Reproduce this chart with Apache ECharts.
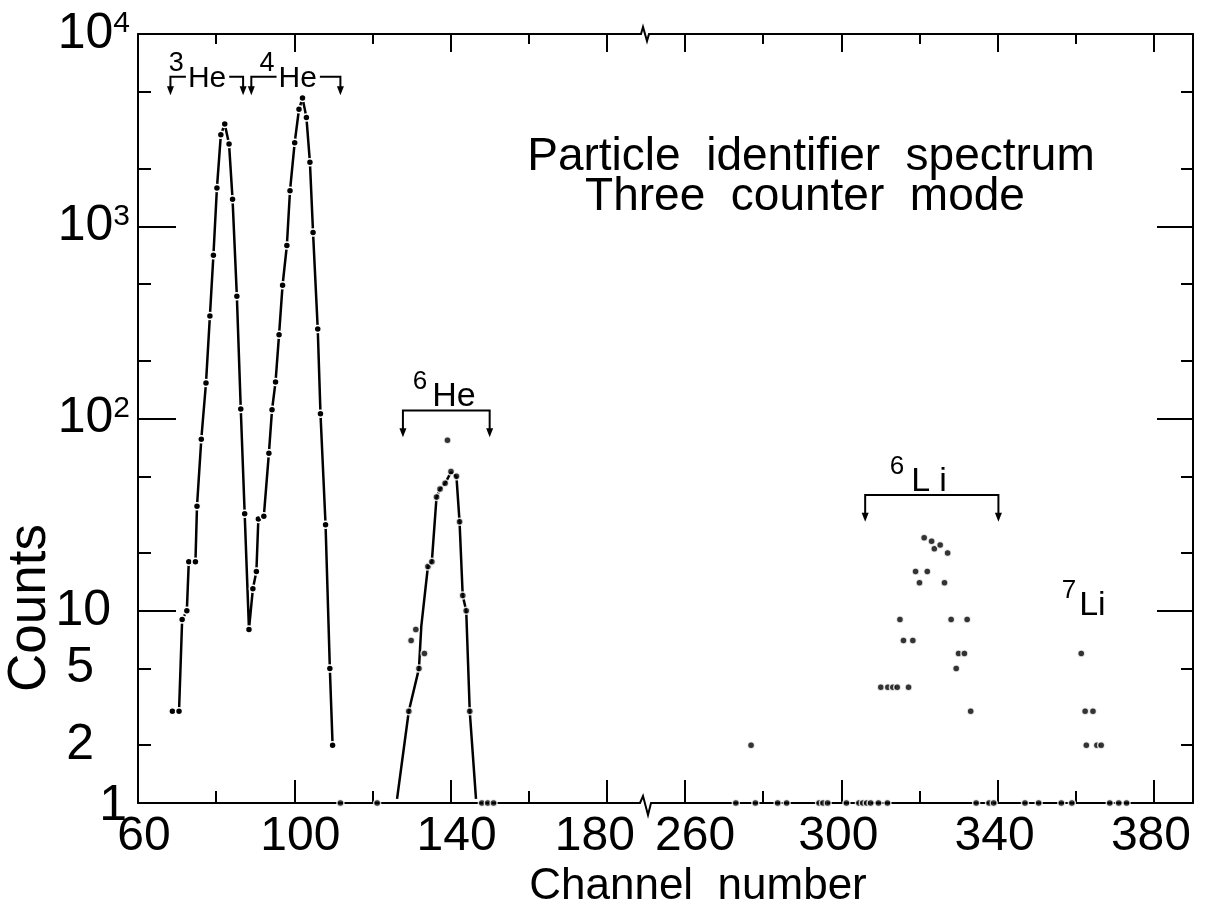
<!DOCTYPE html>
<html><head><meta charset="utf-8">
<script src="https://cdn.jsdelivr.net/npm/echarts@6/dist/echarts.min.js"></script>
<style>html,body{margin:0;padding:0;background:#fff}#c{width:1208px;height:913px}</style>
</head><body><div id="c"></div>
<script>
// ---------- axis definitions ----------
const xMajorTicks = [60, 100, 140, 180, 260, 300, 340, 380];
const xMinorTicks = [80, 120, 160, 280, 320, 360];
const yLabelValues = [1, 2, 5, 10, 100, 1000, 10000];
const yMajorTicks = [1, 10, 100, 1000, 10000];
const yMinorTicks = [2, 5, 20, 50, 200, 500, 2000, 5000];

// ---------- data ----------
const heChannel = [68.8, 70.5, 71.3, 72.5, 73.0, 74.7, 75.1, 76.2, 77.4, 78.4, 79.3, 80.2, 81.2, 82.2, 83.3, 84.2, 85.3, 86.3, 87.3, 88.4, 89.4, 90.3, 90.8, 92.2, 93.5, 94.3, 95.2, 96.1, 97.0, 98.1, 98.9, 100.1, 101.2, 102.1, 103.1, 104.0, 104.8, 106.0, 106.7, 108.0, 109.1, 109.8];
const heCounts  = [3, 3, 9, 10, 18, 18, 35, 78, 153, 341, 707, 1580, 2990, 3400, 2680, 1380, 433, 112, 32, 8, 13, 16, 30, 31, 66, 111, 155, 273, 494, 794, 1530, 2720, 4060, 4640, 3680, 2150, 927, 292, 106, 28, 5, 2];

const he6Channel = [129.3, 129.9, 131.1, 131.9, 133.3, 134.2, 135.2, 136.4, 137.3, 138.6, 139.2, 140.1, 141.5, 142.3, 143.1, 144.0, 144.9];
const he6Counts  = [3, 7, 8, 5, 6, 17, 18, 39, 43, 46, 77, 53, 50, 29, 12, 10, 3];
const he6CurveChannel = [126.3, 129.3, 131.9, 132.5, 134.2, 135.2, 136.4, 137.3, 138.6, 140.1, 141.5, 142.3, 143.1, 144.0, 144.9, 146.5];
const he6CurveCounts  = [1.05, 3, 5, 8.3, 17, 18, 39, 43, 46, 52.6, 49.8, 28.8, 12, 10, 3, 1.05];

const li6Channel = [310.1, 311.9, 313.2, 314.3, 317.2, 315.0, 315.9, 318.3, 319.0, 320.0, 321.2, 322.0, 323.1, 323.8, 325.3, 326.4, 327.2, 328.1, 329.4, 330.0, 331.5, 332.2, 333.1];
const li6Counts  = [4, 4, 4, 4, 4, 9, 7, 7, 16, 14, 24, 16, 23, 21, 22, 14, 20, 9, 5, 6, 6, 9, 3];
const li7Channel = [361.4, 362.4, 364.4, 362.7, 365.4, 366.5];
const li7Counts  = [6, 3, 3, 2, 2, 2];
const loneChannel = [276.9];
const loneCounts  = [2];
const onesChannel = [111.8, 121.2, 148, 149.5, 151, 273, 278, 283.7, 286, 294.3, 295.3, 296.5, 301.3, 304.5, 305.5, 306.5, 307.5, 309.5, 311.8, 334.5, 337.8, 339, 347, 350.5, 356.3, 359, 368.7, 371, 373];

// ---------- annotations (channel / counts units) ----------
const bracketFrom  = [68.3, 89.0, 127.8, 306.1];
const bracketTo    = [86.9, 111.8, 150.0, 340.2];
const bracketLevel = [6000, 6000, 110, 40];
const bracketTip   = [4800, 4800, 80, 29];
const labelSup     = ['3', '4', '6', '6', '7'];
const labelName    = ['He', 'He', 'He', 'Li', 'Li'];
const labelChannel = [67.9, 91.1, 130.3, 312.4, 356.4];
const labelCounts  = [6350, 6350, 139, 50, 11.3];
const axisBreakChannel = 189.5; // drawn position of the broken-axis mark (mapped units)

// ---------- helpers ----------
const SHIFT = 60; // channels >= 260 are drawn shifted left by 60
const mapCh = c => (c >= 200 ? c - SHIFT : c);
const unmapCh = v => (v >= 190 ? v + SHIFT : v);
const lg = v => Math.log10(v);
const pts = (chs, cnts) => chs.map((c, i) => [mapCh(c), lg(cnts[i])]);
const FONT = '"Liberation Sans", Arial, sans-serif';

const black = '#000';
const dotStyle = { color: black, borderColor: '#fff', borderWidth: 1.5 };

const xCommon = { type: 'value', min: 60, max: 330, splitLine: { show: false } };
const yCommon = { type: 'value', min: 0, max: 4, splitLine: { show: false } };
const axLine = { show: true, onZero: false, lineStyle: { color: black, width: 2 } };
const noLine = { show: false, onZero: false };
const tk = (len, vals) => ({ show: true, inside: true, length: len, lineStyle: { color: black, width: 2 }, customValues: vals });

const xLab = { fontSize: 48, fontFamily: FONT, color: black };
const yLab = { fontSize: 50, fontFamily: FONT, color: black };

const chart = echarts.init(document.getElementById('c'), null, { renderer: 'canvas' });
chart.setOption({
  animation: false,
  backgroundColor: '#fff',
  grid: { left: 138, right: 15, top: 34, bottom: 110, containLabel: false },
  xAxis: [
    Object.assign({}, xCommon, {
      position: 'bottom', axisLine: axLine, axisTick: tk(23, xMajorTicks.map(mapCh)),
      axisLabel: {
        show: true, margin: 10, color: black, fontSize: 48, fontFamily: FONT,
        customValues: xMajorTicks.map(mapCh),
        formatter: v => {
          const o = Math.round(unmapCh(v));
          if (o === 180) return '{l|180}';
          if (o === 260) return '{r|260}';
          if (o < 180) return '{c|' + o + '}';
          return '{n|' + o + '}';
        },
        rich: {
          c: Object.assign({ padding: [0, 0, 0, 12] }, xLab),
          l: Object.assign({ padding: [0, 24, 0, 0] }, xLab),
          r: Object.assign({ padding: [0, 0, 0, 20] }, xLab),
          n: Object.assign({ padding: [0, 6, 0, 0] }, xLab)
        }
      }
    }),
    Object.assign({}, xCommon, { position: 'bottom', axisLine: noLine, axisTick: tk(12, xMinorTicks.map(mapCh)), axisLabel: { show: false } }),
    Object.assign({}, xCommon, { position: 'top', axisLine: axLine, axisTick: tk(18, xMajorTicks.map(mapCh)), axisLabel: { show: false } }),
    Object.assign({}, xCommon, { position: 'top', axisLine: noLine, axisTick: tk(10, xMinorTicks.map(mapCh)), axisLabel: { show: false } })
  ],
  yAxis: [
    Object.assign({}, yCommon, {
      position: 'left', axisLine: axLine, axisTick: tk(38, yMajorTicks.map(lg)),
      axisLabel: {
        show: true, margin: 8, color: black, fontFamily: FONT,
        customValues: yLabelValues.map(lg),
        formatter: v => {
          const n = Math.round(Math.pow(10, v));
          if (n >= 100) return '{b|10}{s|' + Math.round(v) + '}';
          if (n === 10) return '{t|10}';
          if (n === 1) return '{o|1}';
          return '{f|' + n + '}';
        },
        rich: {
          b: Object.assign({ verticalAlign: 'bottom' }, yLab),
          s: { fontSize: 30, fontFamily: FONT, color: black, verticalAlign: 'bottom', padding: [0, 0, 20, 0] },
          t: Object.assign({ padding: [0, 19, 0, 0] }, yLab),
          f: Object.assign({ padding: [0, 36, 0, 0] }, yLab),
          o: Object.assign({ padding: [6, 3, 0, 0] }, yLab)
        }
      }
    }),
    Object.assign({}, yCommon, { position: 'left', axisLine: noLine, axisTick: tk(13, yMinorTicks.map(lg)), axisLabel: { show: false } }),
    Object.assign({}, yCommon, { position: 'right', axisLine: axLine, axisTick: tk(36, yMajorTicks.map(lg)), axisLabel: { show: false } }),
    Object.assign({}, yCommon, { position: 'right', axisLine: noLine, axisTick: tk(12, yMinorTicks.map(lg)), axisLabel: { show: false } })
  ],
  graphic: [
    { type: 'text', x: 811, y: 157, style: { text: 'Particle  identifier  spectrum', font: '46px ' + FONT, fill: black, align: 'center', verticalAlign: 'middle', textAlign: 'center', textVerticalAlign: 'middle' } },
    { type: 'text', x: 805, y: 197, style: { text: 'Three  counter  mode', font: '46px ' + FONT, fill: black, align: 'center', verticalAlign: 'middle', textAlign: 'center', textVerticalAlign: 'middle' } },
    { type: 'text', x: 698, y: 887, style: { text: 'Channel  number', font: '44px ' + FONT, fill: black, align: 'center', verticalAlign: 'middle', textAlign: 'center', textVerticalAlign: 'middle' } },
    { type: 'text', x: 30, y: 608, rotation: Math.PI / 2, style: { text: 'Counts', font: '53px ' + FONT, fill: black, align: 'center', verticalAlign: 'middle', textAlign: 'center', textVerticalAlign: 'middle' } }
  ],
  series: [
    {
      name: 'He', type: 'line', data: pts(heChannel, heCounts), clip: false,
      symbol: 'circle', symbolSize: 7, showSymbol: true,
      lineStyle: { color: black, width: 2.5 }, itemStyle: dotStyle, z: 3
    },
    {
      name: 'He6 curve', type: 'line', data: pts(he6CurveChannel, he6CurveCounts), clip: false,
      showSymbol: false, symbol: 'none', lineStyle: { color: black, width: 2.5 }, z: 2
    },
    {
      name: 'points', type: 'scatter', clip: false, symbol: 'circle', symbolSize: 7, itemStyle: dotStyle, z: 4,
      data: [].concat(pts(he6Channel, he6Counts), pts(li6Channel, li6Counts), pts(li7Channel, li7Counts),
                      pts(loneChannel, loneCounts), pts(onesChannel, onesChannel.map(() => 1)))
    },
    {
      name: 'brackets', type: 'custom', coordinateSystem: 'cartesian2d', clip: false, z: 5,
      data: bracketFrom.map((f, i) => [mapCh(f), lg(bracketLevel[i]), mapCh(bracketTo[i]), lg(bracketTip[i])]),
      renderItem: (params, api) => {
        const a = api.coord([api.value(0), api.value(1)]);
        const b = api.coord([api.value(2), api.value(1)]);
        const ta = api.coord([api.value(0), api.value(3)]);
        const tb = api.coord([api.value(2), api.value(3)]);
        const arrow = (x, y) => ({ type: 'polygon', shape: { points: [[x - 3.5, y - 9], [x + 3.5, y - 9], [x, y]] }, style: { fill: black } });
        return {
          type: 'group', children: [
            { type: 'polyline', shape: { points: [[ta[0], ta[1] - 4], a, b, [tb[0], tb[1] - 4]] }, style: { stroke: black, lineWidth: 2, fill: null } },
            arrow(ta[0], ta[1]), arrow(tb[0], tb[1])
          ]
        };
      }
    },
    {
      name: 'labels', type: 'custom', coordinateSystem: 'cartesian2d', clip: false, z: 6,
      data: labelChannel.map((c, i) => [mapCh(c), lg(labelCounts[i]), i]),
      renderItem: (params, api) => {
        const i = api.value(2);
        const p = api.coord([api.value(0), api.value(1)]);
        const inline = i < 2;
        const wide = i === 3;
        const name = labelName[i];
        const rich = inline ? {
          s: { fontSize: 27, fontFamily: FONT, fill: black, verticalAlign: 'bottom', padding: [0, 2, 17, 0] },
          m: { fontSize: 30, fontFamily: FONT, fill: black, verticalAlign: 'bottom', padding: [0, 3, 0, 2], backgroundColor: '#fff' },
          k: { fontSize: 30, fontFamily: FONT, fill: black, verticalAlign: 'bottom' }
        } : {
          s: { fontSize: 26, fontFamily: FONT, fill: black, verticalAlign: 'bottom', padding: [0, 0, 19, 0] },
          m: { fontSize: 34, fontFamily: FONT, fill: black, verticalAlign: 'bottom', padding: [0, 0, 0, i === 2 ? 5 : (wide ? 7 : 3)] },
          k: { fontSize: 34, fontFamily: FONT, fill: black, verticalAlign: 'bottom', padding: [0, 0, 0, 9] }
        };
        const body = wide ? '{m|' + name[0] + '}{k|' + name.slice(1) + '}' : '{m|' + name + '}';
        return {
          type: 'text', x: p[0], y: p[1],
          style: { text: '{s|' + labelSup[i] + '}' + body, rich: rich, align: 'left', verticalAlign: 'middle', fill: black, font: '27px ' + FONT }
        };
      }
    },
    {
      name: 'breaks', type: 'custom', coordinateSystem: 'cartesian2d', clip: false, z: 7,
      data: [[axisBreakChannel, 0, 0], [axisBreakChannel, 4, 1]],
      renderItem: (params, api) => {
        const p = api.coord([api.value(0), api.value(1)]);
        const top = api.value(2) === 1;
        const x = p[0], y = p[1];
        const line = top
          ? [[x - 8, y], [x - 3, y], [x - 1, y - 7], [x + 3, y + 7], [x + 5, y], [x + 10, y]]
          : [[x - 8, y], [x - 4, y], [x - 1, y - 7], [x + 4, y + 12], [x + 7, y], [x + 10, y]];
        return {
          type: 'group', children: [
            { type: 'rect', shape: { x: x - 6, y: y - 2, width: 13, height: 4 }, style: { fill: '#fff' } },
            { type: 'polyline', shape: { points: line }, style: { stroke: black, lineWidth: 2, fill: null } }
          ]
        };
      }
    }
  ]
});
</script>
</body></html>
